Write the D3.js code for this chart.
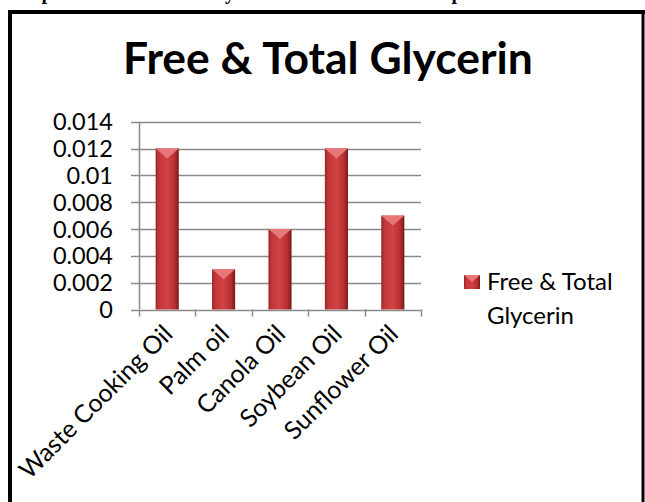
<!doctype html>
<html>
<head>
<meta charset="utf-8">
<script src="https://d3js.org/d3.v7.min.js"></script>
<style>
  body { margin: 0; background: #fff; }
  svg text { font-family: Lato, "Open Sans", sans-serif; fill: #000; }
</style>
</head>
<body>
<svg width="645" height="502"></svg>
<script>
// data
var categories = ["Waste Cooking Oil", "Palm oil", "Canola Oil", "Soybean Oil", "Sunflower Oil"];
var values = [0.012, 0.003, 0.006, 0.012, 0.007];
var yTicks = [0, 0.002, 0.004, 0.006, 0.008, 0.01, 0.012, 0.014];
var yTickLabels = ["0", "0.002", "0.004", "0.006", "0.008", "0.01", "0.012", "0.014"];
var seriesName = ["Free & Total", "Glycerin"];
var chartTitle = "Free & Total Glycerin";
var caption = "Graph 1: Free & Total Glycerin content of each sample";

var svg = d3.select("svg");

// caption cut off at top of the page
svg.append("text")
   .attr("x", 7).attr("y", -1)
   .style("font-family", "'Liberation Serif', serif")
   .style("font-weight", "bold")
   .style("font-size", "20px")
   .text(caption);

// frame
svg.append("line").attr("x1", 10).attr("x2", 10).attr("y1", 10).attr("y2", 520)
   .attr("stroke", "#000").attr("stroke-width", 4);
svg.append("line").attr("x1", 8).attr("x2", 645).attr("y1", 12).attr("y2", 12)
   .attr("stroke", "#000").attr("stroke-width", 4);
svg.append("line").attr("x1", 643).attr("x2", 643).attr("y1", 10).attr("y2", 520)
   .attr("stroke", "#000").attr("stroke-width", 3);

// title, fitted to width
var title = svg.append("text")
   .attr("x", 328).attr("y", 74)
   .attr("text-anchor", "middle")
   .style("font-weight", "bold")
   .style("font-size", "40px")
   .text(chartTitle);
var tw = title.node().getComputedTextLength();
title.style("font-size", (40 * 410 / tw) + "px");

var x = d3.scaleBand()
    .domain(categories)
    .range([139, 421])
    .paddingInner(0.59)
    .paddingOuter(0.295);

var y = d3.scaleLinear()
    .domain([0, 0.014])
    .range([309.5, 121.7]);

var gridColor = "#8a8a8a";

// gridlines
svg.append("g").selectAll("line")
   .data(yTicks)
   .enter().append("line")
   .attr("x1", 131).attr("x2", 421)
   .attr("y1", function(d) { return Math.round(y(d)) + 0.5; })
   .attr("y2", function(d) { return Math.round(y(d)) + 0.5; })
   .attr("stroke", gridColor).attr("stroke-width", 1.5);

// y axis line
svg.append("line").attr("x1", 139.5).attr("x2", 139.5)
   .attr("y1", y(0.014)).attr("y2", y(0))
   .attr("stroke", gridColor).attr("stroke-width", 1.5);

// x tick marks at band edges
var edges = categories.map(function(c) { return x(c) - x.step() * x.paddingInner() / 2; });
edges.push(421);
svg.append("g").selectAll("line")
   .data(edges)
   .enter().append("line")
   .attr("x1", function(d) { return Math.round(d) + 0.5; })
   .attr("x2", function(d) { return Math.round(d) + 0.5; })
   .attr("y1", y(0)).attr("y2", y(0) + 7)
   .attr("stroke", gridColor).attr("stroke-width", 1.5);

// y labels
svg.append("g").selectAll("text")
   .data(yTicks)
   .enter().append("text")
   .attr("x", 113)
   .attr("y", function(d) { return y(d) + 8.5; })
   .attr("text-anchor", "end")
   .style("font-size", "23.5px")
   .text(function(d, i) { return yTickLabels[i]; });

// bar gradient
var defs = svg.append("defs");
var grad = defs.append("linearGradient").attr("id", "barGrad")
   .attr("x1", "0%").attr("x2", "100%").attr("y1", "0%").attr("y2", "0%");
grad.append("stop").attr("offset", "0%").attr("stop-color", "#9c2626");
grad.append("stop").attr("offset", "15%").attr("stop-color", "#c23838");
grad.append("stop").attr("offset", "50%").attr("stop-color", "#d24242");
grad.append("stop").attr("offset", "82%").attr("stop-color", "#b53030");
grad.append("stop").attr("offset", "100%").attr("stop-color", "#7a1818");

var bars = svg.append("g");
bars.selectAll("rect")
   .data(values)
   .enter().append("rect")
   .attr("x", function(d, i) { return x(categories[i]); })
   .attr("y", function(d) { return y(d); })
   .attr("width", x.bandwidth())
   .attr("height", function(d) { return y(0) - y(d); })
   .attr("fill", "url(#barGrad)");

// bevelled top
bars.selectAll("polygon")
   .data(values)
   .enter().append("polygon")
   .attr("points", function(d, i) {
       var x0 = x(categories[i]), x1 = x0 + x.bandwidth(), yt = y(d);
       var xm = (x0 + x1) / 2;
       return [[x0, yt], [x1, yt], [xm, yt + 10]].join(" ");
   })
   .attr("fill", "#e8777a");

// x labels, rotated
svg.append("g").selectAll("text")
   .data(categories)
   .enter().append("text")
   .attr("transform", function(d) {
       return "translate(" + (x(d) + x.bandwidth() / 2 + 7) + "," + (y(0) + 26) + ") rotate(-45)";
   })
   .attr("text-anchor", "end")
   .style("font-size", "25px")
   .text(function(d) { return d; });

// legend
svg.append("rect").attr("x", 464).attr("y", 275).attr("width", 16).attr("height", 14)
   .attr("fill", "url(#barGrad)");
svg.append("polygon").attr("points", "464,275 480,275 472,282").attr("fill", "#e8777a");
svg.append("g").selectAll("text")
   .data(seriesName)
   .enter().append("text")
   .attr("x", 487)
   .attr("y", function(d, i) { return 290 + i * 34; })
   .style("font-size", "24px")
   .text(function(d) { return d; });
</script>
</body>
</html>
